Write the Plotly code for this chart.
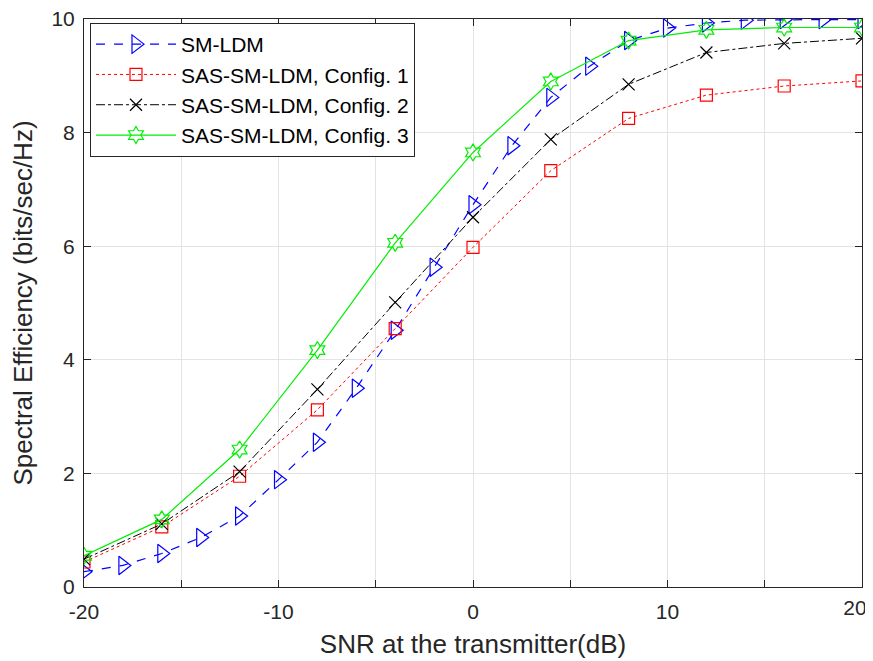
import plotly.graph_objects as go

snr_fine = [-20, -18, -16, -14, -12, -10, -8, -6, -4, -2, 0, 2, 4, 6, 8, 10, 12, 14, 16, 18, 20]
se_sm_ldm = [0.27, 0.38, 0.59, 0.87, 1.25, 1.89, 2.55, 3.50, 4.52, 5.63, 6.73, 7.77, 8.62, 9.17, 9.62, 9.84, 9.93, 9.98, 9.99, 9.99, 9.99]

snr_coarse = [-20, -16, -12, -8, -4, 0, 4, 8, 12, 16, 20]
se_cfg1 = [0.44, 1.06, 1.95, 3.12, 4.55, 5.98, 7.33, 8.25, 8.66, 8.82, 8.91]
se_cfg2 = [0.49, 1.11, 2.03, 3.48, 5.01, 6.51, 7.88, 8.85, 9.41, 9.57, 9.66]
se_cfg3 = [0.55, 1.19, 2.42, 4.17, 6.06, 7.65, 8.90, 9.62, 9.81, 9.85, 9.85]

x_tickvals = [-20, -15, -10, -5, 0, 5, 10, 15, 20]
x_ticktext = ["-20", "", "-10", "", "0", "", "10", "", ""]
x_last_tickval = [20]
x_last_ticktext = ["20"]
y_tickvals = [0, 2, 4, 6, 8, 10]

fig = go.Figure()
fig.add_trace(go.Scatter(
    x=snr_fine, y=se_sm_ldm, name="SM-LDM", mode="lines+markers",
    line=dict(color="#0000ff", dash="dash", width=1.2),
    marker=dict(symbol="triangle-right-open", size=16, color="#0000ff", line=dict(width=1.2))))
fig.add_trace(go.Scatter(
    x=snr_coarse, y=se_cfg1, name="SAS-SM-LDM, Config. 1", mode="lines+markers",
    line=dict(color="#ff0000", dash="dot", width=1),
    marker=dict(symbol="square-open", size=12, color="#ff0000", line=dict(width=1.2))))
fig.add_trace(go.Scatter(
    x=snr_coarse, y=se_cfg2, name="SAS-SM-LDM, Config. 2", mode="lines+markers",
    line=dict(color="#000000", dash="dashdot", width=1),
    marker=dict(symbol="x-thin-open", size=12, color="#000000", line=dict(width=1.2, color="#000000"))))
fig.add_trace(go.Scatter(
    x=snr_coarse, y=se_cfg3, name="SAS-SM-LDM, Config. 3", mode="lines+markers",
    xaxis="x2",
    line=dict(color="#00ee00", width=1.2),
    marker=dict(symbol="hexagram-open", size=13, color="#00ee00", line=dict(width=1.2))))

tick_font = dict(family="Arial, Liberation Sans", size=21, color="#262626")
axis_common = dict(
    showline=True, linecolor="#262626", linewidth=1, mirror="ticks",
    ticks="inside", ticklen=7, tickcolor="#262626",
    showgrid=True, gridcolor="#e3e3e3", gridwidth=1,
    zeroline=False, automargin=False, ticklabeloverflow="allow",
    tickfont=tick_font,
)

fig.update_layout(
    width=865, height=653,
    margin=dict(l=76, r=11, t=11, b=74),
    paper_bgcolor="white", plot_bgcolor="white",
    font=dict(family="Arial, Liberation Sans", color="#262626"),
    xaxis=dict(range=[-20, 20], tickvals=x_tickvals, ticktext=x_ticktext,
               ticklabelstandoff=6,
               title=dict(text="SNR at the transmitter(dB)", font=dict(size=26), standoff=12),
               **axis_common),
    xaxis2=dict(range=[-20, 20], overlaying="x", side="bottom", anchor="y",
                tickvals=x_last_tickval, ticktext=x_last_ticktext,
                ticklabelshift=-7, ticklabelstandoff=6,
                showline=False, showgrid=False, zeroline=False, ticks="",
                automargin=False, ticklabeloverflow="allow", tickfont=tick_font),
    yaxis=dict(range=[0, 10], tickvals=y_tickvals,
               ticklabelstandoff=4,
               title=dict(text="Spectral Efficiency (bits/sec/Hz)", font=dict(size=26), standoff=14),
               **axis_common),
    legend=dict(x=0.0077, y=0.993, xanchor="left", yanchor="top",
                bgcolor="white", bordercolor="#262626", borderwidth=1,
                font=dict(size=21, color="#000000"), tracegroupgap=0,
                itemwidth=80),
    showlegend=True,
)

fig.write_html("out.html")
